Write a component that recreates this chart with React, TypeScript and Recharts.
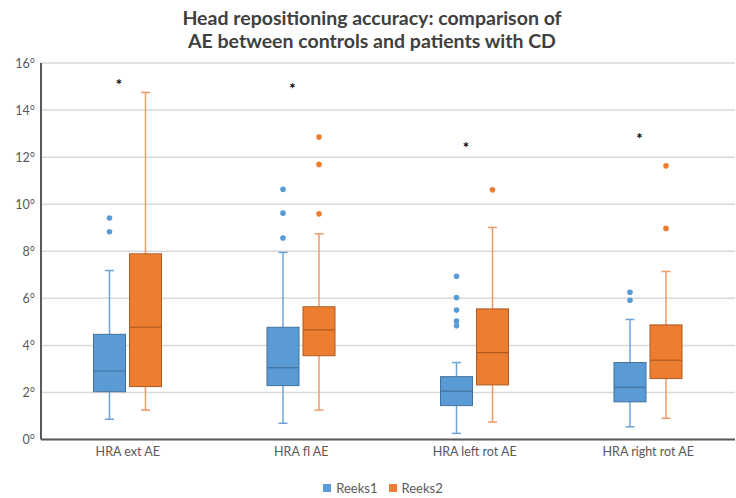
import React from 'react';
import { ComposedChart, Bar, XAxis, YAxis, CartesianGrid, Legend } from 'recharts';

// ---------- data ----------
const categories = ['HRA ext AE', 'HRA fl AE', 'HRA left rot AE', 'HRA right rot AE'];

// Reeks1 (controls)
const r1Min = [0.86, 0.69, 0.26, 0.54];
const r1Q1 = [2.03, 2.29, 1.44, 1.6];
const r1Median = [2.91, 3.05, 2.06, 2.22];
const r1Q3 = [4.47, 4.77, 2.67, 3.27];
const r1Max = [7.18, 7.95, 3.27, 5.1];
const r1Outliers = [
  [9.41, 8.83],
  [10.63, 9.62, 8.56],
  [6.94, 6.03, 5.5, 5.03, 4.83],
  [6.26, 5.92],
];

// Reeks2 (patients with CD)
const r2Min = [1.25, 1.25, 0.74, 0.9];
const r2Q1 = [2.25, 3.56, 2.32, 2.59];
const r2Median = [4.77, 4.66, 3.69, 3.37];
const r2Q3 = [7.89, 5.64, 5.55, 4.87];
const r2Max = [14.75, 8.74, 9.01, 7.14];
const r2Outliers = [[], [12.85, 11.69, 9.59], [10.61], [11.63, 8.97]];

// significance markers (*)
const significance = [15.18, 15.04, 12.53, 12.88];

const yTicks = [0, 2, 4, 6, 8, 10, 12, 14, 16];

// ---------- styling ----------
const FONT = 'Lato, "Open Sans", sans-serif';
const BLUE = '#5B9BD5';
const BLUE_DARK = '#41719C';
const BLUE_WHISKER = '#6FA3D6';
const ORANGE = '#ED7D31';
const ORANGE_DARK = '#AE5A21';
const ORANGE_WHISKER = '#EE9A66';

type BoxStats = { min: number; q1: number; med: number; q3: number; max: number; out: number[]; star?: number };

const extent = (b: BoxStats): [number, number] => {
  const vals = [b.min, b.max, ...b.out];
  if (b.star != null) vals.push(b.star);
  return [Math.min(...vals), Math.max(...vals)];
};

const data = categories.map((cat, i) => {
  const b1: BoxStats = {
    min: r1Min[i], q1: r1Q1[i], med: r1Median[i], q3: r1Q3[i], max: r1Max[i], out: r1Outliers[i], star: significance[i],
  };
  const b2: BoxStats = {
    min: r2Min[i], q1: r2Q1[i], med: r2Median[i], q3: r2Q3[i], max: r2Max[i], out: r2Outliers[i],
  };
  return { cat, b1, b2, r1: extent(b1), r2: extent(b2) };
});

const makeBoxShape = (statKey: 'b1' | 'b2', rangeKey: 'r1' | 'r2', fill: string, stroke: string, whisker: string) =>
  (props: any) => {
    const { x, y, width, height, payload } = props;
    if (!payload) return null;
    const b: BoxStats = payload[statKey];
    const [lo, hi] = payload[rangeKey];
    // the bar spans [lo, hi]; map any value linearly inside it (y -> hi, y+height -> lo)
    const py = (v: number) => y + (height * (hi - v)) / (hi - lo);
    const cx = x + width / 2;
    const cap = 4.5;
    const top = py(b.q3);
    const bottom = py(b.q1);
    return (
      <g>
        <line x1={cx} x2={cx} y1={py(b.max)} y2={top} stroke={whisker} strokeWidth={1.5} />
        <line x1={cx} x2={cx} y1={bottom} y2={py(b.min)} stroke={whisker} strokeWidth={1.5} />
        <line x1={cx - cap} x2={cx + cap} y1={py(b.max)} y2={py(b.max)} stroke={whisker} strokeWidth={1.5} />
        <line x1={cx - cap} x2={cx + cap} y1={py(b.min)} y2={py(b.min)} stroke={whisker} strokeWidth={1.5} />
        <rect x={x + 0.5} y={top} width={width - 1} height={bottom - top} fill={fill} stroke={stroke} strokeWidth={1} />
        <line x1={x + 0.5} x2={x + width - 0.5} y1={py(b.med)} y2={py(b.med)} stroke={stroke} strokeWidth={1.2} />
        {b.out.map((o, k) => (
          <circle key={k} cx={cx} cy={py(o)} r={2.8} fill={fill} />
        ))}
        {b.star != null && (
          <text x={x + width - 7} y={py(b.star) + 8} textAnchor="middle" fontFamily={FONT} fontSize={15} fontWeight={700} fill="#000">
            *
          </text>
        )}
      </g>
    );
  };

const YTick = (props: any) => {
  const { x, y, payload } = props;
  return (
    <text x={x} y={y} dy="0.36em" textAnchor="end" fontFamily={FONT} fontSize={12.5} fill="#595959">
      {`${payload.value}°`}
    </text>
  );
};

const LegendContent = () => (
  <div
    style={{
      display: 'flex',
      justifyContent: 'center',
      alignItems: 'center',
      height: 20,
      fontFamily: FONT,
      fontSize: 13,
      color: '#595959',
    }}
  >
    <span style={{ display: 'inline-block', width: 8, height: 8, background: BLUE, marginRight: 5 }} />
    <span style={{ marginRight: 11 }}>Reeks1</span>
    <span style={{ display: 'inline-block', width: 8, height: 8, background: ORANGE, marginRight: 5 }} />
    <span>Reeks2</span>
  </div>
);

export default function App() {
  return (
    <div style={{ position: 'relative', width: 736, height: 498, background: '#fff' }}>
      <style>{`body{margin:0;}`}</style>
      <div
        style={{
          position: 'absolute',
          top: 6,
          left: 0,
          width: 736,
          paddingLeft: 8,
          boxSizing: 'border-box',
          textAlign: 'center',
          fontFamily: FONT,
          fontWeight: 700,
          fontSize: 19.5,
          lineHeight: '23px',
          color: '#404040',
          zIndex: 1,
        }}
      >
        <div>Head repositioning accuracy: comparison of</div>
        <div>AE between controls and patients with CD</div>
      </div>
      <ComposedChart
        width={736}
        height={498}
        data={data}
        margin={{ top: 63, right: 1, bottom: 8.5, left: 0 }}
        barGap={3}
        barCategoryGap="30%"
      >
        <CartesianGrid vertical={false} stroke="#d9d9d9" strokeWidth={1.5} />
        <XAxis
          dataKey="cat"
          axisLine={{ stroke: '#595959', strokeWidth: 2 }}
          tickLine={false}
          tick={{ fontFamily: FONT, fontSize: 12.5, fill: '#595959' }}
          height={30}
        />
        <YAxis
          domain={[0, 16]}
          ticks={yTicks}
          width={41}
          axisLine={{ stroke: '#595959', strokeWidth: 2 }}
          tickLine={false}
          tickMargin={0}
          tick={<YTick />}
          interval={0}
        />
        <Legend
          verticalAlign="bottom"
          content={<LegendContent />}
          wrapperStyle={{ left: 31, width: 704, bottom: 0 }}
        />
        <Bar
          dataKey="r1"
          name="Reeks1"
          fill={BLUE}
          barSize={33}
          isAnimationActive={false}
          shape={makeBoxShape('b1', 'r1', BLUE, BLUE_DARK, BLUE_WHISKER)}
        />
        <Bar
          dataKey="r2"
          name="Reeks2"
          fill={ORANGE}
          barSize={33}
          isAnimationActive={false}
          shape={makeBoxShape('b2', 'r2', ORANGE, ORANGE_DARK, ORANGE_WHISKER)}
        />
      </ComposedChart>
    </div>
  );
}
